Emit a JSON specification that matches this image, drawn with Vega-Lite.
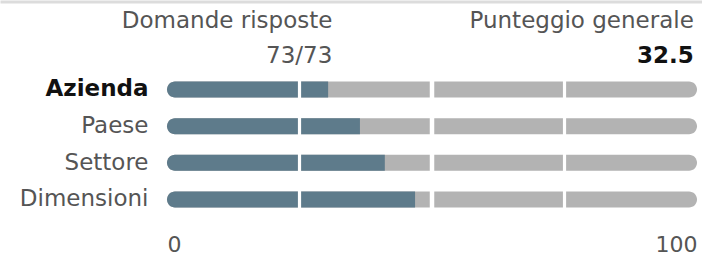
{
  "$schema": "https://vega.github.io/schema/vega-lite/v6.json",
  "width": 702,
  "height": 255,
  "autosize": {"type": "none"},
  "padding": 0,
  "background": "white",
  "config": {"view": {"stroke": null}, "font": "DejaVu Sans", "text": {"font": "DejaVu Sans"}},
  "datasets": {
    "rows": [
      {"group": "Azienda", "score": 30.4, "max": 100},
      {"group": "Paese", "score": 36.4, "max": 100},
      {"group": "Settore", "score": 41.1, "max": 100},
      {"group": "Dimensioni", "score": 46.8, "max": 100}
    ],
    "seps": [
      {"group": "Azienda", "t": 25}, {"group": "Azienda", "t": 50}, {"group": "Azienda", "t": 75},
      {"group": "Paese", "t": 25}, {"group": "Paese", "t": 50}, {"group": "Paese", "t": 75},
      {"group": "Settore", "t": 25}, {"group": "Settore", "t": 50}, {"group": "Settore", "t": 75},
      {"group": "Dimensioni", "t": 25}, {"group": "Dimensioni", "t": 50}, {"group": "Dimensioni", "t": 75}
    ],
    "header": [
      {"col": "left", "row": "hdr", "label": "Domande risposte", "value": "73/73"},
      {"col": "right", "row": "hdr", "label": "Punteggio generale", "value": "32.5"}
    ]
  },
  "resolve": {"axis": {"x": "independent"}},
  "layer": [
    {
      "data": {"name": "rows"},
      "mark": {"type": "bar", "color": "#b3b3b3", "height": 16, "cornerRadius": 8},
      "encoding": {
        "x": {
          "field": "max",
          "type": "quantitative",
          "stack": null,
          "scale": {"domain": [-31.51, 100.94], "nice": false, "zero": false},
          "axis": {
            "orient": "bottom",
            "values": [0, 100],
            "labelFlush": false,
            "labelAlign": {"condition": {"test": "datum.value == 100", "value": "right"}, "value": "left"},
            "grid": false,
            "ticks": false,
            "domain": false,
            "title": null,
            "labelFont": "DejaVu Sans",
            "labelFontWeight": "normal",
            "labelFontSize": 22,
            "labelColor": "#555555",
            "labelPadding": 0,
            "offset": -21
          }
        },
        "y": {
          "field": "group",
          "type": "nominal",
          "scale": {"domain": ["hdr", "Azienda", "Paese", "Settore", "Dimensioni"], "range": [34.5, 217.8], "paddingInner": 0, "paddingOuter": 0},
          "axis": {
            "orient": "left",
            "offset": -148,
            "labelExpr": "datum.value == 'hdr' ? '' : datum.value",
            "labelFont": "DejaVu Sans",
            "labelFontSize": 23,
            "labelFontWeight": {"condition": {"test": "datum.value === 'Azienda'", "value": "bold"}, "value": "normal"},
            "labelColor": {"condition": {"test": "datum.value === 'Azienda'", "value": "#111111"}, "value": "#555555"},
            "labelPadding": 0,
            "ticks": false,
            "domain": false,
            "grid": false,
            "title": null
          }
        }
      }
    },
    {
      "data": {"name": "rows"},
      "mark": {"type": "bar", "color": "#5e7b8b", "height": 16, "cornerRadiusTopLeft": 8, "cornerRadiusBottomLeft": 8},
      "encoding": {
        "x": {"field": "score", "type": "quantitative", "stack": null, "axis": null},
        "y": {"field": "group", "type": "nominal"}
      }
    },
    {
      "data": {"name": "seps"},
      "transform": [{"filter": "datum.t != 50"}],
      "mark": {"type": "tick", "color": "white", "thickness": 3.2, "size": 20, "opacity": 1},
      "encoding": {
        "x": {
          "field": "t",
          "type": "quantitative",
          "axis": {
            "orient": "top",
            "domain": true,
            "domainColor": "#dcdcdc",
            "domainWidth": 3,
            "labels": false,
            "ticks": false,
            "grid": false,
            "title": null,
            "offset": -1.5
          }
        },
        "y": {"field": "group", "type": "nominal"}
      }
    },
    {
      "data": {"name": "seps"},
      "transform": [{"filter": "datum.t == 50"}],
      "mark": {"type": "tick", "color": "white", "thickness": 4.5, "size": 20, "opacity": 1},
      "encoding": {
        "x": {"field": "t", "type": "quantitative", "axis": null},
        "y": {"field": "group", "type": "nominal"}
      }
    },
    {
      "data": {"name": "header"},
      "transform": [{"filter": "datum.col == 'left'"}],
      "mark": {"type": "text", "align": "right", "baseline": "alphabetic", "dy": -24.5, "fontSize": 23, "fontWeight": "normal", "color": "#555555"},
      "encoding": {
        "x": {"datum": 31.2, "type": "quantitative", "axis": null},
        "y": {"field": "row", "type": "nominal"},
        "text": {"field": "label"}
      }
    },
    {
      "data": {"name": "header"},
      "transform": [{"filter": "datum.col == 'left'"}],
      "mark": {"type": "text", "align": "right", "baseline": "alphabetic", "dy": 10, "fontSize": 23, "fontWeight": "normal", "color": "#555555"},
      "encoding": {
        "x": {"datum": 31.2, "type": "quantitative", "axis": null},
        "y": {"field": "row", "type": "nominal"},
        "text": {"field": "value"}
      }
    },
    {
      "data": {"name": "header"},
      "transform": [{"filter": "datum.col == 'right'"}],
      "mark": {"type": "text", "align": "right", "baseline": "alphabetic", "dy": -24.5, "fontSize": 23, "fontWeight": "normal", "color": "#555555"},
      "encoding": {
        "x": {"datum": 99.4, "type": "quantitative", "axis": null},
        "y": {"field": "row", "type": "nominal"},
        "text": {"field": "label"}
      }
    },
    {
      "data": {"name": "header"},
      "transform": [{"filter": "datum.col == 'right'"}],
      "mark": {"type": "text", "align": "right", "baseline": "alphabetic", "dy": 10, "fontSize": 23, "fontWeight": "bold", "color": "#111111"},
      "encoding": {
        "x": {"datum": 99.4, "type": "quantitative", "axis": null},
        "y": {"field": "row", "type": "nominal"},
        "text": {"field": "value"}
      }
    }
  ]
}
